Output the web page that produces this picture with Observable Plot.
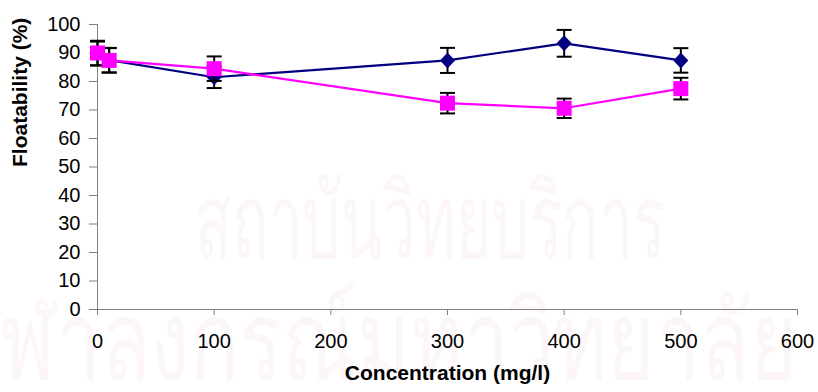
<!DOCTYPE html>
<html>
<head>
<meta charset="utf-8">
<script src="https://cdn.jsdelivr.net/npm/d3@7"></script>
<script src="https://cdn.jsdelivr.net/npm/@observablehq/plot@0.6"></script>
<style>
  html, body { margin: 0; padding: 0; background: #fff; }
  #wrap { position: relative; width: 818px; height: 392px; overflow: hidden; }
  .wm { position: absolute; left: 0; top: 0; color: #fcf6f9; font-family: "Noto Sans", "DejaVu Sans", sans-serif; white-space: nowrap; line-height: 1; transform-origin: 0 0; }
  #chart { position: absolute; left: 0; top: 0; }
  #chart svg { background: transparent !important; }
</style>
</head>
<body>
<div id="wrap">
  <span class="wm" id="wm1">สถาบันวิทยบริการ</span>
  <span class="wm" id="wm2"><span id="wm2a">จุ</span>ฬาลงกรณ์มหาวิทยาลัย</span>
  <div id="chart"></div>
</div>
<script>
const concentration = [0, 10, 100, 300, 400, 500];
const seriesNavy = [89.8, 87.5, 81.5, 87.4, 93.4, 87.4];
const errNavy = [4.2, 4.3, 3.8, 4.4, 4.7, 4.3];
const seriesMagenta = [90.0, 87.4, 84.5, 72.4, 70.6, 77.5];
const errMagenta = [4.3, 4.3, 4.3, 3.6, 3.4, 3.8];
const xTicks = [0, 100, 200, 300, 400, 500, 600];
const yTicks = [0, 10, 20, 30, 40, 50, 60, 70, 80, 90, 100];

// faint watermark behind the chart
function placeWatermark(el, left, right, fontSize, top, skipEl) {
  el.style.fontSize = fontSize + "px";
  const w = el.getBoundingClientRect().width;
  const skip = skipEl ? skipEl.getBoundingClientRect().width : 0;
  const s = (right - left) / (w - skip);
  el.style.transform = `translate(${left - skip * s}px, ${top}px) scaleX(${s})`;
}
placeWatermark(document.getElementById("wm1"), 195, 665, 105, 165, null);
placeWatermark(document.getElementById("wm2"), 0, 797, 109, 282, document.getElementById("wm2a"));

const navy = concentration.map((x, i) => ({x, y: seriesNavy[i], e: errNavy[i]}));
const magenta = concentration.map((x, i) => ({x, y: seriesMagenta[i], e: errMagenta[i]}));

const capSymbol = {draw(ctx) { ctx.moveTo(-7.5, 0); ctx.lineTo(7.5, 0); }};
const diamondSymbol = {draw(ctx) { ctx.moveTo(0, -8); ctx.lineTo(7.5, 0); ctx.lineTo(0, 8); ctx.lineTo(-7.5, 0); ctx.closePath(); }};
const squareSymbol = {draw(ctx) { ctx.rect(-7.5, -7.5, 15, 15); }};

function seriesMarks(data, color, symbol) {
  return [
    Plot.line(data, {x: "x", y: "y", stroke: color, strokeWidth: 2.2}),
    Plot.ruleX(data, {x: "x", y1: d => d.y - d.e, y2: d => d.y + d.e, stroke: "black", strokeWidth: 2}),
    Plot.dot(data, {x: "x", y: d => d.y - d.e, symbol: capSymbol, stroke: "black", strokeWidth: 2, fill: "none"}),
    Plot.dot(data, {x: "x", y: d => d.y + d.e, symbol: capSymbol, stroke: "black", strokeWidth: 2, fill: "none"}),
    Plot.dot(data, {x: "x", y: "y", symbol: symbol, fill: color, stroke: "none"})
  ];
}

const chart = Plot.plot({
  width: 818,
  height: 392,
  marginLeft: 97,
  marginRight: 21,
  marginTop: 24,
  marginBottom: 83,
  style: {fontFamily: "Liberation Sans, Arial, sans-serif", fontSize: "20px", background: "transparent", color: "black"},
  x: {domain: [0, 600]},
  y: {domain: [0, 100]},
  marks: [
    Plot.axisX({ticks: xTicks, tickSize: 6, tickPadding: 18, fontSize: 20, stroke: "#808080", fill: "black", label: null}),
    Plot.axisY({ticks: yTicks, tickSize: 8, tickPadding: 9, fontSize: 20, stroke: "#808080", fill: "black", label: null}),
    Plot.ruleY([0], {stroke: "#808080"}),
    Plot.ruleX([0], {stroke: "#808080"}),
    ...seriesMarks(navy, "#000080", diamondSymbol),
    ...seriesMarks(magenta, "#ff00ff", squareSymbol),
    Plot.text(["Concentration (mg/l)"], {frameAnchor: "bottom", dy: 70, fontSize: 21, fontWeight: "bold", fill: "black"}),
    Plot.text(["Floatability (%)"], {frameAnchor: "left", dx: -77, rotate: -90, fontSize: 21, fontWeight: "bold", fill: "black"})
  ]
});
document.getElementById("chart").appendChild(chart);
</script>
</body>
</html>
